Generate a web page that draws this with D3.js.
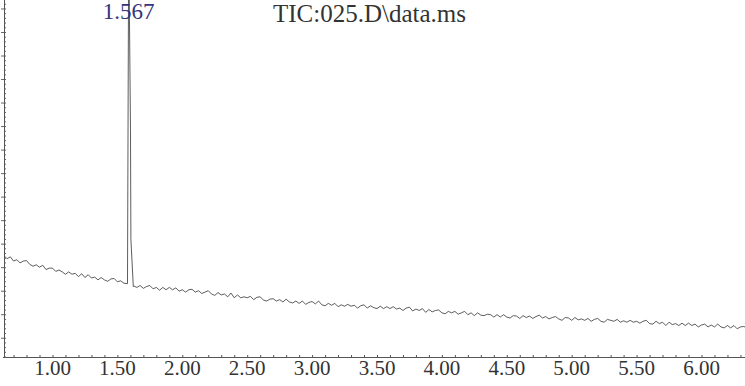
<!DOCTYPE html>
<meta charset="utf-8">
<html>

<head>
    <!-- Load d3.js -->
    <script src="https://d3js.org/d3.v7.min.js"></script>

    <style>
        body {
            background-color: #ffffff;
            margin: 0;
        }

        svg {
            display: block;
        }
    </style>
</head>

<body>
    <!-- Create a div where the graph will take place -->
    <div id="tic"></div>

    <script>
        // chromatogram data (time in min, abundance in arbitrary units)
        var scanStart = 0.625,
            scanStep = 0.025;

        var baseline = [
            217, 210, 214, 205, 208, 201, 205, 206, 198, 194,
            197, 192, 196, 187, 190, 190, 183, 186, 182, 177,
            182, 177, 179, 172, 178, 170, 176, 169,
            171, 165, 170, 165, 162, 167, 168, 161, 163, 158,
            159, 155,
            152, 149, 153, 147, 151, 153, 146, 149, 143, 149,
            144, 149, 144, 148, 141, 144, 139, 144, 145, 139,
            142, 136, 139, 142, 135, 132, 138, 133, 135, 129, 137, 127, 133, 127, 129,
            127, 130, 123, 128, 129, 122, 120, 124, 125, 120, 123, 118, 124, 118, 116,
            120, 115, 120, 113, 117, 119, 114, 120, 112, 110, 115, 111, 115, 108, 112,
            109, 113, 109, 111, 105, 110, 112, 105, 110, 106, 104, 109, 104, 108, 104,
            108, 103, 105, 100, 105, 107, 99, 103, 100, 104, 96, 102, 97, 100, 101,
            95, 93, 98, 95, 98, 92, 95, 98, 91, 95, 89, 95, 90, 89, 92,
            91, 86, 91, 86, 91, 86, 84, 89, 88, 83, 89, 85, 88, 83, 87,
            90, 84, 87, 82, 85, 87, 82, 79, 85, 84, 79, 85, 80, 82, 79,
            83, 77, 81, 83, 77, 75, 81, 79, 77, 81, 75, 78, 75, 79, 75,
            77, 73, 77, 79, 72, 71, 77, 72, 75, 68, 75, 70, 72, 68, 73,
            68, 73, 68, 71, 65, 69, 71, 65, 69, 65, 71, 65, 63, 68, 63, 68, 61, 65, 66, 63
        ];

        // the peak itself (its apex goes off the top of the plot)
        var peakTimes = [1.5778, 1.5871, 1.6009, 1.6040, 1.6225],
            peakValues = [157, 890, 484, 251, 151];

        var peakLabel = "1.567",
            peakApex = 1.5871;

        var title = "TIC:025.D\\data.ms";

        var xTicks = [1.0, 1.5, 2.0, 2.5, 3.0, 3.5, 4.0, 4.5, 5.0, 5.5, 6.0];

        // set the dimensions of the graph
        var width = 745,
            height = 386,
            axisY = 357.5,
            axisX = 4.5;

        var svg = d3.select("#tic")
            .append("svg")
            .attr("width", width)
            .attr("height", height);

        var x = d3.scaleLinear()
            .domain([1, 6])
            .range([52.5, 701.5]);

        var y = d3.scaleLinear()
            .domain([0, 760])
            .range([axisY, 0]);

        // build the trace: baseline scans, with the scans under the peak replaced
        var trace = baseline.map(function (v, i) {
            return { t: scanStart + i * scanStep, v: v };
        }).filter(function (d) {
            return d.t < 1.57 || d.t > 1.624;
        });
        peakTimes.forEach(function (t, i) {
            trace.push({ t: t, v: peakValues[i] });
        });
        trace.sort(function (a, b) { return a.t - b.t; });

        svg.append("clipPath")
            .attr("id", "plot")
            .append("rect")
            .attr("x", axisX)
            .attr("y", 0)
            .attr("width", width - axisX)
            .attr("height", axisY);

        svg.append("path")
            .datum(trace)
            .attr("clip-path", "url(#plot)")
            .attr("fill", "none")
            .attr("stroke", "#333")
            .attr("stroke-width", 0.8)
            .attr("d", d3.line()
                .x(function (d) { return x(d.t); })
                .y(function (d) { return y(d.v); }));

        // X axis: minor ticks every 0.1 min, pointing up
        var xMinor = d3.range(7, 64).map(function (k) { return k / 10; });

        var xAxis = svg.append("g")
            .attr("transform", "translate(0," + axisY + ")")
            .call(d3.axisTop(x)
                .tickValues(xMinor)
                .tickSize(2.5)
                .tickFormat(""));
        xAxis.select(".domain").remove();
        xAxis.selectAll("line").attr("stroke", "#555");

        svg.append("line")
            .attr("x1", 3).attr("x2", width)
            .attr("y1", axisY).attr("y2", axisY)
            .attr("stroke", "#555")
            .attr("stroke-width", 1);

        svg.append("g")
            .selectAll("text")
            .data(xTicks)
            .enter()
            .append("text")
            .attr("x", function (d) { return x(d); })
            .attr("y", 375)
            .attr("text-anchor", "middle")
            .style("font-family", "'Liberation Serif', 'Times New Roman', serif")
            .style("font-size", "21px")
            .style("fill", "#333")
            .text(function (d) { return d.toFixed(2); });

        // Y axis: no labels, only small tick marks
        var yMinor = d3.range(2, 760, 10);

        var yAxis = svg.append("g")
            .attr("transform", "translate(" + axisX + ",0)")
            .call(d3.axisLeft(y)
                .tickValues(yMinor)
                .tickSize(1.5)
                .tickFormat(""));
        yAxis.select(".domain").remove();
        yAxis.selectAll("line")
            .attr("stroke", "#666")
            .attr("x1", function (d) { return (d - 42) % 50 === 0 ? -3.5 : 0; })
            .attr("x2", 1.5);

        svg.append("line")
            .attr("x1", axisX).attr("x2", axisX)
            .attr("y1", 0).attr("y2", axisY)
            .attr("stroke", "#555")
            .attr("stroke-width", 1);

        // peak retention time label
        svg.append("text")
            .attr("x", x(peakApex))
            .attr("y", 19)
            .attr("text-anchor", "middle")
            .style("font-family", "'Liberation Serif', 'Times New Roman', serif")
            .style("font-size", "23px")
            .style("fill", "#35357a")
            .text(peakLabel);

        // title
        svg.append("text")
            .attr("x", 273)
            .attr("y", 21.5)
            .style("font-family", "'Liberation Serif', 'Times New Roman', serif")
            .style("font-size", "25px")
            .style("fill", "#333")
            .text(title);
    </script>
</body>

</html>
